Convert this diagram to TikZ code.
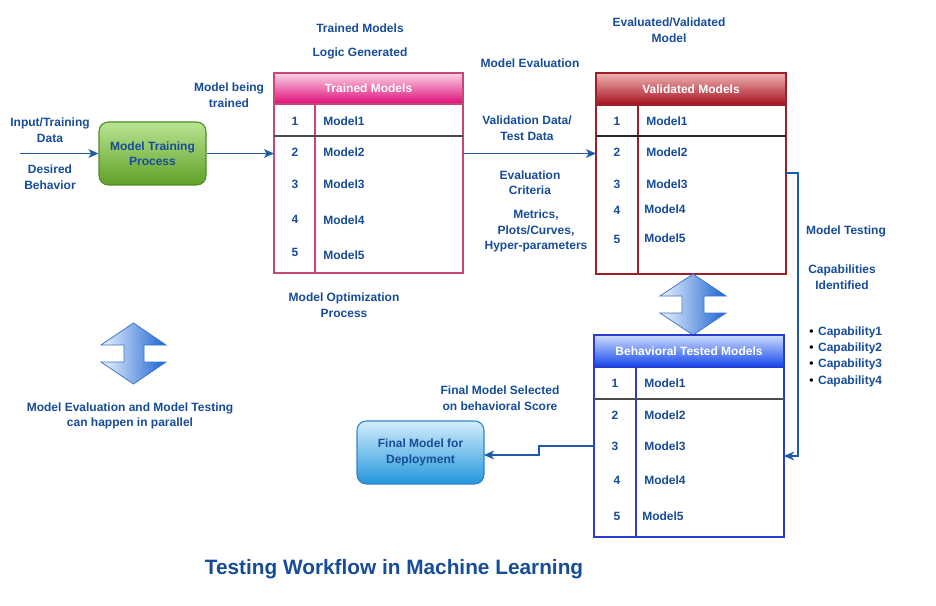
\documentclass[tikz,border=0pt]{standalone}
\usepackage{fontspec}
\setmainfont{Liberation Sans}
\usetikzlibrary{arrows.meta,shadings}
\definecolor{txt}{RGB}{22,76,152}
\definecolor{conncol}{RGB}{30,90,170}
\definecolor{pinkb}{RGB}{200,70,120}
\definecolor{pinktop}{RGB}{250,212,230}
\definecolor{pinkbot}{RGB}{222,10,120}
\definecolor{redb}{RGB}{160,30,40}
\definecolor{redtop}{RGB}{240,180,180}
\definecolor{redbot}{RGB}{165,15,30}
\definecolor{blueb}{RGB}{40,60,210}
\definecolor{bluetop}{RGB}{205,220,255}
\definecolor{bluebot}{RGB}{20,70,235}
\definecolor{greenb}{RGB}{80,140,40}
\definecolor{greentop}{RGB}{185,228,145}
\definecolor{greenbot}{RGB}{95,160,40}
\definecolor{finb}{RGB}{50,130,200}
\definecolor{fintop}{RGB}{210,238,252}
\definecolor{finbot}{RGB}{35,150,220}
\definecolor{arrl}{RGB}{238,244,253}
\definecolor{arrr}{RGB}{25,100,210}
\definecolor{arrb}{RGB}{60,120,200}
\tikzset{
  lbl/.style={text=txt, align=center, inner sep=0pt},
  conn/.style={draw=conncol, line width=0.8pt, -{Stealth[length=7.5pt,width=6.5pt,inset=2pt]}},
  tbl/.style={draw, line width=0.8pt, inner sep=0pt, outer sep=0pt, fill=white},
  hdr/.style={draw, line width=0.8pt, inner sep=0pt, outer sep=0pt, text=white},
  numtxt/.style={text=txt, inner sep=0pt},
  mdltxt/.style={text=txt, inner sep=0pt, anchor=west},
  rbox/.style={draw, line width=0.8pt, rounded corners=7pt, inner sep=0pt, text=txt, align=center},
  dblarr/.style={draw=arrb, line width=0.6pt, left color=arrl, right color=arrr}
}
\begin{document}
\begin{tikzpicture}[x=0.75pt,y=-0.75pt, font=\bfseries\fontsize{9}{11.6}\selectfont]
\useasboundingbox (0,0) rectangle (936,606);

% ---------- left part ----------
\node[lbl] (inlbl) at (50,130) {Input/Training\\Data};
\node[lbl] (deslbl) at (50,177) {Desired\\Behavior};
\node[rbox, draw=greenb, top color=greentop, bottom color=greenbot,
      minimum width=80.25pt, minimum height=47.25pt] (train) at (152.5,153.5) {Model Training\\Process};
\coordinate (instart) at (20,153.5);
\draw[conn] (instart) -- (train.west);

\node[lbl] (beinglbl) at (229,95) {Model being\\trained};

% ---------- Trained models table ----------
\node[lbl] (tm1lbl) at (360,28) {Trained Models};
\node[lbl] (tm2lbl) at (360,53) {Logic Generated};
\node[tbl, draw=pinkb, minimum width=141.75pt, minimum height=150pt] (trained) at (368.5,173) {};
\node[hdr, draw=pinkb, top color=pinktop, bottom color=pinkbot,
      minimum width=141.75pt, minimum height=23.25pt] (trainedh) at (368.5,88.5) {Trained Models};
\draw[pinkb, line width=0.8pt] (315,104) -- (315,273);
\draw[black!70, line width=0.8pt] (274,136) -- (463,136);
\node[numtxt] (tn1) at (295,121) {1};
\node[numtxt] (tn2) at (295,152) {2};
\node[numtxt] (tn3) at (295,184) {3};
\node[numtxt] (tn4) at (295,219) {4};
\node[numtxt] (tn5) at (295,252) {5};
\node[mdltxt] (tm1) at (323,121) {Model1};
\node[mdltxt] (tm2) at (323,152) {Model2};
\node[mdltxt] (tm3) at (323,184) {Model3};
\node[mdltxt] (tm4) at (323,220) {Model4};
\node[mdltxt] (tm5) at (323,255) {Model5};
\draw[conn] (train.east) -- (train.east -| trained.west);

\node[lbl] (optlbl) at (344,305) {Model Optimization\\Process};

% ---------- middle labels ----------
\node[lbl] (evallbl) at (530,63) {Model Evaluation};
\node[lbl] (vallbl) at (669,30) {Evaluated/Validated\\Model};
\node[lbl] (vdlbl) at (527,128) {Validation Data/\\Test Data};
\node[lbl] (critlbl) at (530,182.5) {Evaluation\\Criteria};
\node[lbl] (metlbl) at (536,231) {Metrics,\\Plots/Curves,\\Hyper-parameters};

% ---------- Validated models table ----------
\node[tbl, draw=redb, minimum width=142.5pt, minimum height=150.75pt] (valid) at (691,173.5) {};
\node[hdr, draw=redb, top color=redtop, bottom color=redbot,
      minimum width=142.5pt, minimum height=24pt] (validh) at (691,89) {Validated Models};
\draw[redb, line width=0.8pt] (638,105) -- (638,274);
\draw[black!85, line width=0.8pt] (596,136) -- (786,136);
\node[numtxt] (vn1) at (617,121) {1};
\node[numtxt] (vn2) at (617,152) {2};
\node[numtxt] (vn3) at (617,184) {3};
\node[numtxt] (vn4) at (617,210) {4};
\node[numtxt] (vn5) at (617,239) {5};
\node[mdltxt] (vm1) at (646,121) {Model1};
\node[mdltxt] (vm2) at (646,152) {Model2};
\node[mdltxt] (vm3) at (646,184) {Model3};
\node[mdltxt] (vm4) at (644,209) {Model4};
\node[mdltxt] (vm5) at (644,238) {Model5};
\draw[conn] (train.east -| trained.east) -- (train.east -| valid.west);

% ---------- right side labels ----------
\node[lbl] (testlbl) at (846,231) {Model Testing};
\node[lbl] (caplbl) at (842,277) {Capabilities\\Identified};
\node[text=txt, align=left, inner sep=0pt, anchor=north west,
      font=\bfseries\fontsize{9}{12.2}\selectfont] (caps) at (809,326.5)
  {{\color{black}\textbullet}\hspace{3.5pt}Capability1\\
   {\color{black}\textbullet}\hspace{3.5pt}Capability2\\
   {\color{black}\textbullet}\hspace{3.5pt}Capability3\\
   {\color{black}\textbullet}\hspace{3.5pt}Capability4};

% ---------- double arrow between tables ----------
\path[dblarr] (660,296) -- (693,274) -- (726,296) -- (704,296) -- (704,313) -- (726,313)
  -- (693,335) -- (660,313) -- (682,313) -- (682,296) -- cycle;

% ---------- Behavioral tested models ----------
\node[tbl, draw=blueb, minimum width=142.5pt, minimum height=151.5pt] (beh) at (689,436) {};
\node[hdr, draw=blueb, top color=bluetop, bottom color=bluebot,
      minimum width=142.5pt, minimum height=24pt] (behh) at (689,351) {Behavioral Tested Models};
\draw[blueb, line width=0.8pt] (636,367) -- (636,537);
\draw[black!70, line width=0.9pt] (594,399) -- (784,399);
\node[numtxt] (bn1) at (615,383) {1};
\node[numtxt] (bn2) at (615,415) {2};
\node[numtxt] (bn3) at (615,446) {3};
\node[numtxt] (bn4) at (617,480) {4};
\node[numtxt] (bn5) at (617,516) {5};
\node[mdltxt] (bm1) at (644,383) {Model1};
\node[mdltxt] (bm2) at (644,415) {Model2};
\node[mdltxt] (bm3) at (644,446) {Model3};
\node[mdltxt] (bm4) at (644,480) {Model4};
\node[mdltxt] (bm5) at (642,516) {Model5};

% validated -> behavioral
\coordinate (vout) at (786,173);
\coordinate (bin) at (784,456);
\draw[conn] (vout) -| (798,456) -- (bin);

% ---------- Final model ----------
\node[lbl] (sellbl) at (500,398) {Final Model Selected\\on behavioral Score};
\node[rbox, draw=finb, top color=fintop, bottom color=finbot,
      minimum width=95.25pt, minimum height=47.25pt] (final) at (420.5,452.5) {Final Model for\\Deployment};
\coordinate (bout) at (594,446);
\coordinate (finin) at (484,455);
\draw[conn] (bout) -- (539,446) -- (539,455) -- (finin);

% ---------- left double arrow ----------
\path[dblarr] (101,345) -- (133.5,323) -- (166,345) -- (144,345) -- (144,362) -- (166,362)
  -- (133.5,384) -- (101,362) -- (124,362) -- (124,345) -- cycle;
\node[lbl] (parlbl) at (130,416) {Model Evaluation and Model Testing\\can happen in parallel};

% ---------- title ----------
\node[lbl, font=\bfseries\fontsize{15.6}{18}\selectfont] (title) at (394,569) {Testing Workflow in Machine Learning};
\end{tikzpicture}
\end{document}
